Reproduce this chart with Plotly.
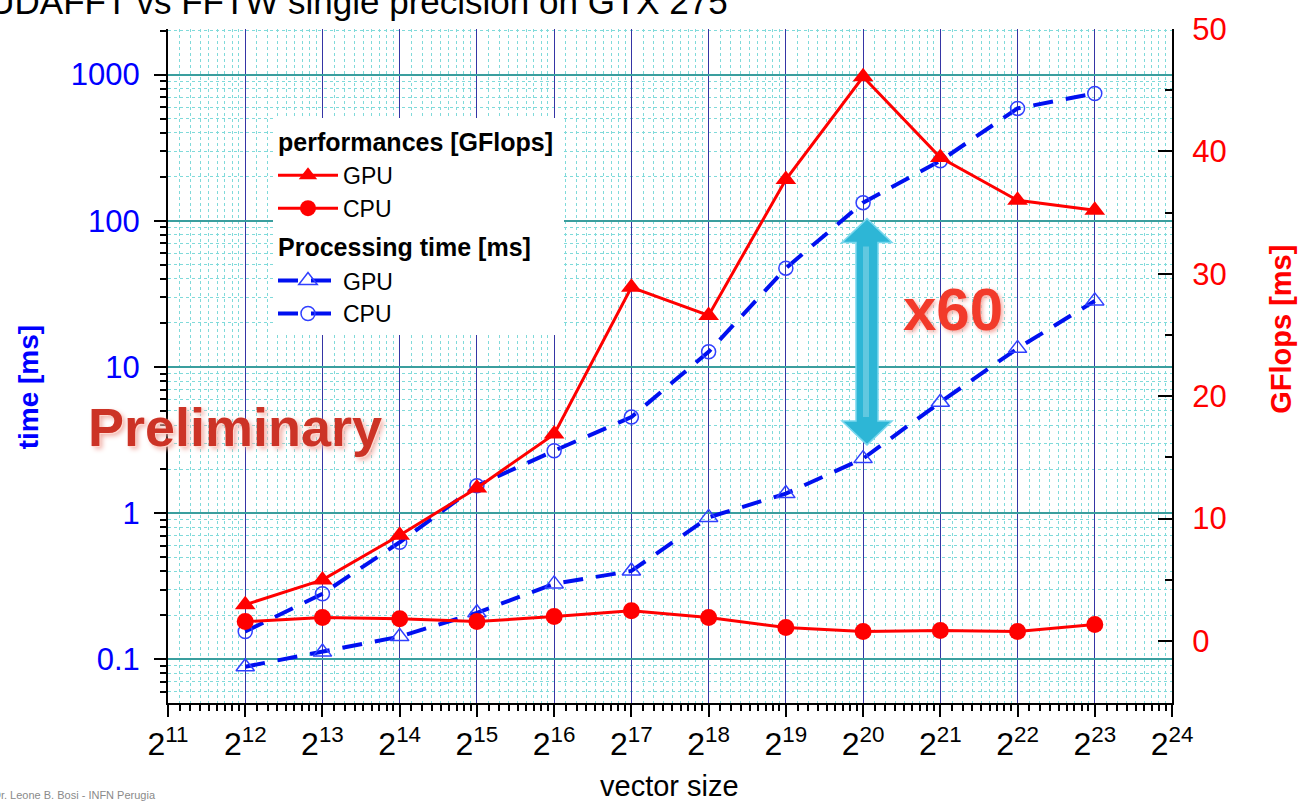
import plotly.graph_objects as go
import math

# ---------------- data ----------------
exponents = [12, 13, 14, 15, 16, 17, 18, 19, 20, 21, 22, 23]
time_gpu = [0.089, 0.112, 0.143, 0.208, 0.328, 0.402, 0.935, 1.36, 2.36, 5.74, 13.4, 28.3]
time_cpu = [0.155, 0.281, 0.632, 1.54, 2.67, 4.54, 12.7, 47.4, 133, 257, 587, 743]
gflops_gpu = [2.96, 4.99, 8.64, 12.5, 16.9, 28.9, 26.6, 37.7, 46.1, 39.5, 36.0, 35.2]
gflops_cpu = [1.58, 1.91, 1.82, 1.58, 1.99, 2.47, 1.91, 1.09, 0.77, 0.85, 0.77, 1.34]
x_tick_exps = list(range(11, 25))
x_tick_text = ["2<sup>%d</sup>" % n for n in x_tick_exps]
left_ticks = [0.1, 1, 10, 100, 1000]
left_tick_text = ["0.1", "1", "10", "100", "1000"]
right_ticks = [0, 10, 20, 30, 40, 50]

W, H = 1299, 802
ML, MR, MT, MB = 168, 127, 24, 99
PW, PH = W - ML - MR, H - MT - MB

def px(xp):
    return (xp - ML) / PW

def py(yp):
    return (H - MB - yp) / PH

FONT = "Liberation Sans, Arial, sans-serif"
RED = "#ff0000"
BLUE = "#0010f0"

fig = go.Figure()

fig.add_trace(go.Scatter(
    x=exponents, y=gflops_gpu, yaxis="y2", name="GPU",
    mode="lines+markers", legendgroup="perf",
    legendgrouptitle=dict(text="performances [GFlops]",
                          font=dict(family=FONT, size=25, color="black", weight="bold")),
    line=dict(color=RED, width=3),
    marker=dict(symbol="triangle-up", size=18, color=RED),
))
fig.add_trace(go.Scatter(
    x=exponents, y=gflops_cpu, yaxis="y2", name="CPU",
    mode="lines+markers", legendgroup="perf",
    line=dict(color=RED, width=3),
    marker=dict(symbol="circle", size=17, color=RED),
))
fig.add_trace(go.Scatter(
    x=exponents, y=time_gpu, yaxis="y", name="GPU",
    mode="lines+markers", legendgroup="time",
    legendgrouptitle=dict(text="Processing time [ms]",
                          font=dict(family=FONT, size=25, color="black", weight="bold")),
    line=dict(color=BLUE, width=4, dash="20px,13px"),
    marker=dict(symbol="triangle-up-open", size=16, color="#3040ff", line=dict(width=1.5)),
))
fig.add_trace(go.Scatter(
    x=exponents, y=time_cpu, yaxis="y", name="CPU",
    mode="lines+markers", legendgroup="time",
    line=dict(color=BLUE, width=4, dash="20px,13px"),
    marker=dict(symbol="circle-open", size=14, color="#3040ff", line=dict(width=1.5)),
))

# minor tick positions on the log2 x axis (values 2^n*(1+k/9))
x_minor = [n + math.log2(1 + k / 9) for n in range(11, 24) for k in range(1, 9)]

fig.update_layout(
    width=W, height=H,
    margin=dict(l=ML, r=MR, t=MT, b=MB),
    paper_bgcolor="white", plot_bgcolor="white",
    font=dict(family=FONT, color="black"),
    showlegend=True,
    legend=dict(
        x=px(273), y=py(114), xanchor="left", yanchor="top",
        bgcolor="white", borderwidth=0,
        font=dict(family=FONT, size=23, color="black"),
        traceorder="grouped", tracegroupgap=4,
        itemwidth=60,
    ),
    xaxis=dict(
        range=[11, 24], tickmode="array", tickvals=x_tick_exps, ticktext=x_tick_text,
        tickfont=dict(family=FONT, size=32, color="black"),
        showline=True, linecolor="black", linewidth=2, mirror=False,
        ticks="outside", ticklen=12, tickwidth=2, tickcolor="black",
        showgrid=True, gridcolor="#3535a5", gridwidth=1,
        zeroline=False,
        minor=dict(tickmode="array", tickvals=x_minor, ticks="outside", ticklen=6,
                   tickwidth=2, tickcolor="black",
                   showgrid=True, gridcolor="#80dada", griddash="dot", gridwidth=1),
    ),
    yaxis=dict(
        type="log", range=[-1.299, 3.312],
        tickmode="array", tickvals=left_ticks, ticktext=left_tick_text,
        tickfont=dict(family=FONT, size=31, color="#0000ff"),
        showline=True, linecolor="black", linewidth=2,
        ticks="outside", ticklen=12, tickwidth=2, tickcolor="black",
        ticklabelstandoff=8,
        showgrid=True, gridcolor="#3a9e9e", gridwidth=1.5,
        zeroline=False,
        minor=dict(dtick="D1", ticks="outside", ticklen=6, tickwidth=2, tickcolor="black",
                   showgrid=True, gridcolor="#80dada", griddash="dot", gridwidth=1),
    ),
    yaxis2=dict(
        overlaying="y", side="right", range=[-5.07, 50.0],
        tickmode="array", tickvals=right_ticks,
        tickfont=dict(family=FONT, size=31, color="#ff0000"),
        showline=True, linecolor="black", linewidth=2,
        ticks="inside", ticklen=14, tickwidth=2, tickcolor="black",
        ticklabelstandoff=12,
        showgrid=False, zeroline=False,
        minor=dict(dtick=5, ticks="inside", ticklen=7, tickwidth=2, tickcolor="black",
                   showgrid=False),
    ),
)

# double arrow (decoration)
cx, top, bot, hw, hh, sw = 867, 215, 443, 25, 24, 11
pts = [(cx, top), (cx + hw, top + hh), (cx + sw, top + hh), (cx + sw, bot - hh),
       (cx + hw, bot - hh), (cx, bot), (cx - hw, bot - hh), (cx - sw, bot - hh),
       (cx - sw, top + hh), (cx - hw, top + hh)]
path = "M " + " L ".join("%.5f,%.5f" % (px(a), py(b)) for a, b in pts) + " Z"
fig.add_shape(type="path", path=path, xref="paper", yref="paper",
              fillcolor="#2db6d6", line=dict(color="#7ad8ee", width=1.5), layer="above")
inner = [(cx - 4, top + hh + 4), (cx + 2, top + hh + 4), (cx + 2, bot - hh - 4), (cx - 4, bot - hh - 4)]
path2 = "M " + " L ".join("%.5f,%.5f" % (px(a), py(b)) for a, b in inner) + " Z"
fig.add_shape(type="path", path=path2, xref="paper", yref="paper",
              fillcolor="rgba(255,255,255,0.25)", line=dict(width=0), layer="above")

annotations = [
    dict(text="CUDAFFT vs FFTW single precision on GTX 275", x=px(730), y=py(-4),
         xanchor="right", yanchor="middle", font=dict(family=FONT, size=35, color="black")),
    dict(text="time [ms]", x=px(28), y=py(385), textangle=-90, xanchor="center", yanchor="middle",
         font=dict(family=FONT, size=28, color="#0000ff", weight="bold")),
    dict(text="GFlops [ms]", x=px(1281), y=py(327), textangle=-90, xanchor="center", yanchor="middle",
         font=dict(family=FONT, size=29, color="#ff0000", weight="bold")),
    dict(text="vector size", x=px(669), y=py(787), xanchor="center", yanchor="middle",
         font=dict(family=FONT, size=29, color="black")),
    dict(text="Preliminary", x=px(235), y=py(425), xanchor="center", yanchor="middle",
         font=dict(family=FONT, size=54, color="#cc3326", weight="bold",
                   shadow="1px 1px 0 #ffd8d0, 3px 3px 5px #f0b0a8")),
    dict(text="x60", x=px(953), y=py(307), xanchor="center", yanchor="middle",
         font=dict(family=FONT, size=60, color="#f23a2a", weight="bold",
                   shadow="2px 2px 4px #f5a8a0")),
    dict(text="Dr. Leone B. Bosi - INFN Perugia", x=px(-9), y=py(796), xanchor="left", yanchor="middle",
         font=dict(family=FONT, size=11, color="#8a8a8a")),
]
for a in annotations:
    a.update(xref="paper", yref="paper", showarrow=False)
    fig.add_annotation(**a)

fig.write_html(
    "out.html",
    config={"displayModeBar": False},
    post_script="document.body.style.margin='0';document.body.style.overflow='hidden';",
)
